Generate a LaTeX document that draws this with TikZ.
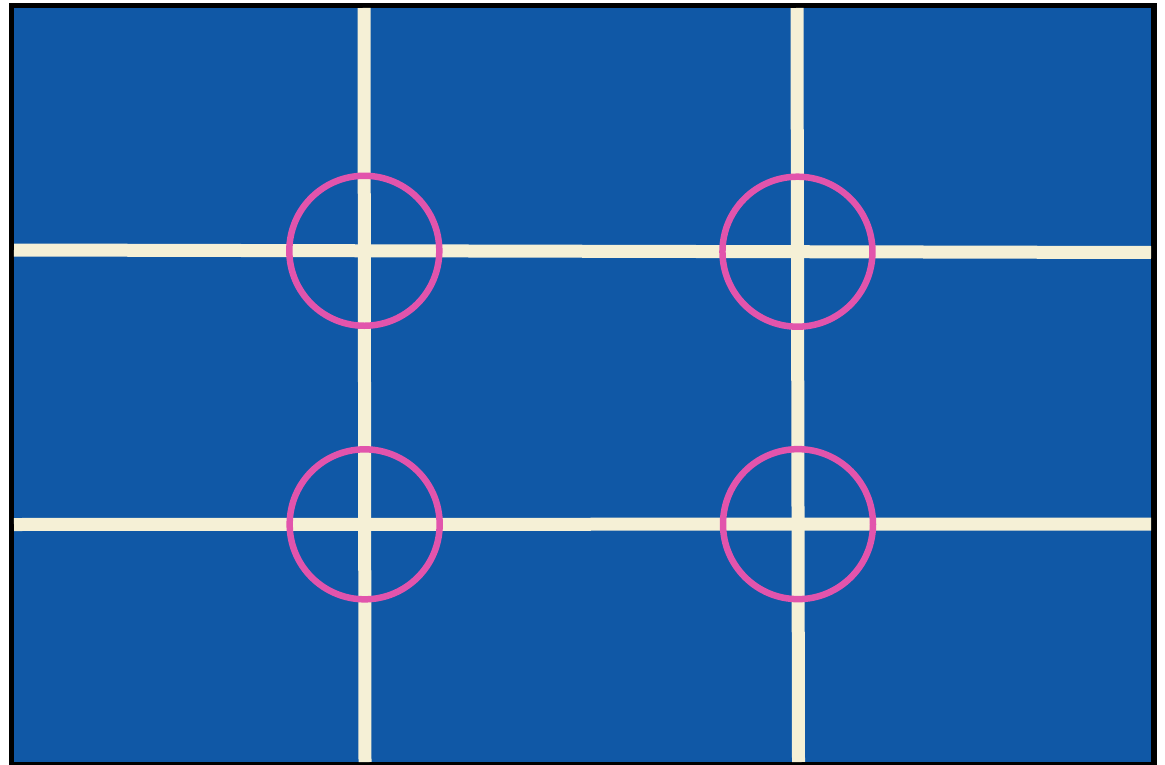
\documentclass[tikz,border=0pt]{standalone}
\usepackage{tikz}

\definecolor{frameblue}{RGB}{16,88,166}
\definecolor{gridcream}{RGB}{245,240,214}
\definecolor{markpink}{RGB}{226,84,172}

\begin{document}
\begin{tikzpicture}[x=1pt, y=-1pt]

% Picture size (pixels)
\def\W{1165}
\def\H{765}
\useasboundingbox (0,0) rectangle (\W,\H);

% Black frame and blue field
\fill[black] (9,3) rectangle (1157,\H);
\fill[frameblue] (14,8) rectangle (1151,762);

% End points of the third lines
\coordinate (v1t) at (364,8);
\coordinate (v1b) at (365,762);
\coordinate (v2t) at (797,8);
\coordinate (v2b) at (798.5,762);
\coordinate (h1l) at (14,250);
\coordinate (h1r) at (1151,252.5);
\coordinate (h2l) at (14,524.5);
\coordinate (h2r) at (1151,524);

% Third lines
\foreach \a/\b in {v1t/v1b, v2t/v2b, h1l/h1r, h2l/h2r}
    \draw[gridcream, line width=13] (\a) -- (\b);

% Circles on the crossings
\foreach \vx in {1,2}
    \foreach \hy in {1,2}
        \draw[markpink, line width=6.5]
          (intersection of v\vx t--v\vx b and h\hy l--h\hy r) circle[radius=75];

\end{tikzpicture}
\end{document}
